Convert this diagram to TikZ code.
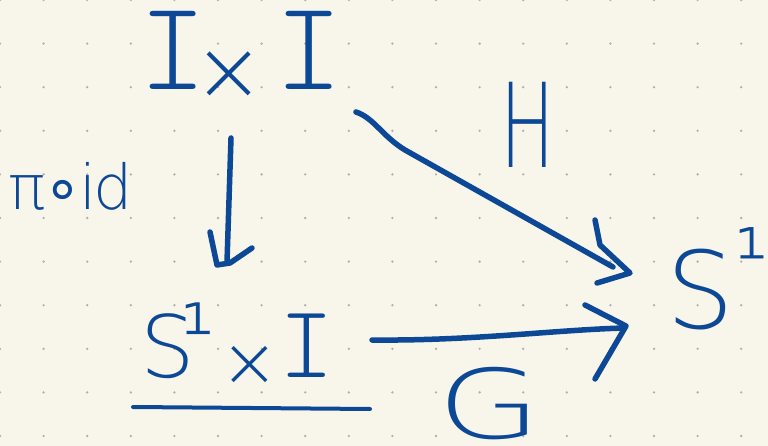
\documentclass[tikz,border=0pt]{standalone}
\usepackage{fontspec}
\usepackage{graphicx}
\newfontfamily\hand{DejaVu Sans}[UprightFont={* ExtraLight}]
\newfontfamily\handsym{DejaVu Sans}
\newfontfamily\handI{Latin Modern Mono Light}
\definecolor{paper}{RGB}{248,246,235}
\definecolor{ink}{RGB}{12,72,150}
\definecolor{dotgray}{RGB}{178,176,170}
\tikzset{
  hw/.style={inner sep=0pt, text=ink, anchor=base west, font=\hand\fontsize{#1}{#1}\selectfont},
  stroke/.style={draw=ink, line width=5.5pt, line cap=round, line join=round},
  underline/.style={stroke, line width=4pt},
}
% a serifed capital I and a lowered times sign, in the given sizes
\newcommand{\capI}[1]{{\handI\fontsize{#1}{#1}\selectfont I}}
\newcommand{\smallx}[2]{\raisebox{#2}{\fontsize{#1}{#1}\selectfont ×}}
\newcommand{\supone}[2]{\raisebox{#2}{\fontsize{#1}{#1}\selectfont ¹}}
\begin{document}
\begin{tikzpicture}[x=1pt,y=-1pt]
  % dotted notebook paper
  \fill[paper] (0,0) rectangle (768,446);
  \useasboundingbox (0,0) rectangle (768,446);
  \foreach \i in {0,...,17}
    \foreach \j in {0,...,10}
      \fill[dotgray] (43.6*\i,43.6*\j) circle[radius=1.3];

  % objects
  \node[hw=107] (ixi) at (139.5,90) {\capI{128}\kern-13pt\smallx{85}{-11pt}\kern10pt\capI{128}};
  \node[hw=86]  (sxi) at (140,377) {S\kern-14pt\supone{86}{12pt}\kern5pt\smallx{70}{-9pt}\kern1pt\capI{104}};
  \node[hw=107] (s1)  at (666,328) {S\supone{85}{39pt}};

  % labels
  \node[hw=117] (h)   at (500,168) {\scalebox{0.62}[1]{H}};
  \node[hw=96]  (g)   at (437,438) {\scalebox{1.4}[1]{G}};
  \node[hw=62]  (pid) at (8,210) {π\kern-2pt{\handsym ∘}\kern-3pt i\kern-3pt d};

  % underline under the product
  \draw[underline] ([shift={(-7,30)}]sxi.base west) -- ([shift={(230,32)}]sxi.base west);

  % vertical map
  \draw[stroke] ([shift={(91.5,48)}]ixi.base west) -- ([shift={(87,-115)}]sxi.base west) coordinate (vt);
  \draw[stroke] (vt) ++(-17,-30) -- ++(7,33) -- ++(13,-2) -- ++(22,-15);

  % H
  \draw[stroke] ([shift={(216.5,22)}]ixi.base west) .. controls +(18,6) and +(-23,-14) .. ++(49,38)
                -- ([shift={(-53,-61)}]s1.base west) coordinate (ht);
  \draw[stroke] (ht) ++(-18,-47) -- ++(5,25) -- ++(30,28) -- ++(-33,10);

  % G
  \draw[stroke] ([shift={(232,-37)}]sxi.base west) .. controls +(100,1) and +(-70,2)
                .. ([shift={(-42,0)}]s1.base west) coordinate (gt);
  \draw[stroke] (gt) ++(-39,-23) -- ++(41,21) -- ++(-31,53);
\end{tikzpicture}
\end{document}
